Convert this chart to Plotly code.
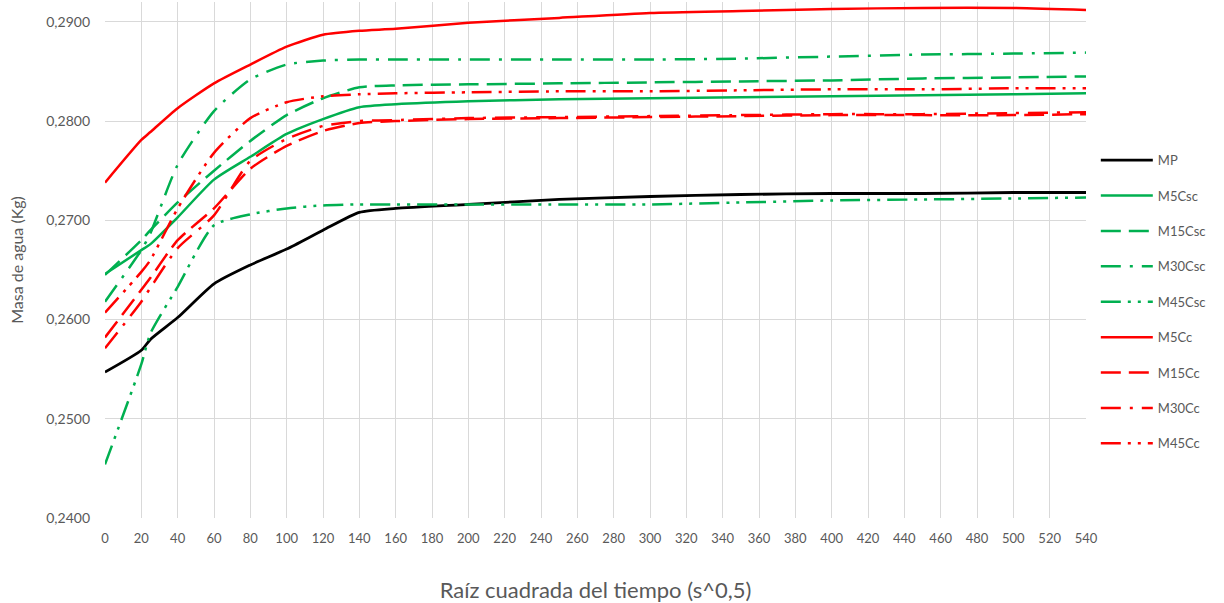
import plotly.graph_objects as go

x_vals = [0, 20, 25, 40, 60, 80, 100, 120, 140, 160, 200, 250, 300, 350, 400, 450, 500, 540]

mp      = [0.2547, 0.2569, 0.2580, 0.2602, 0.2636, 0.2655, 0.2671, 0.2690, 0.2708, 0.2712, 0.2716, 0.2721, 0.2724, 0.2726, 0.2727, 0.2727, 0.2728, 0.2728]
m5csc   = [0.2646, 0.2670, 0.2676, 0.2703, 0.2741, 0.2764, 0.2787, 0.2802, 0.2814, 0.2817, 0.2820, 0.2822, 0.2823, 0.2824, 0.2825, 0.2826, 0.2827, 0.2828]
m15csc  = [0.2645, 0.2680, 0.2690, 0.2718, 0.2750, 0.2780, 0.2806, 0.2823, 0.2834, 0.2836, 0.2837, 0.2838, 0.2839, 0.2840, 0.2841, 0.2843, 0.2844, 0.2845]
m30csc  = [0.2618, 0.2670, 0.2687, 0.2756, 0.2810, 0.2842, 0.2857, 0.2861, 0.2862, 0.2862, 0.2862, 0.2862, 0.2862, 0.2863, 0.2865, 0.2867, 0.2868, 0.2869]
m45csc  = [0.2454, 0.2555, 0.2586, 0.2633, 0.2695, 0.2706, 0.2712, 0.2715, 0.2716, 0.2716, 0.2716, 0.2716, 0.2716, 0.2718, 0.2720, 0.2721, 0.2722, 0.2723]
m5cc    = [0.2738, 0.2781, 0.2789, 0.2813, 0.2838, 0.2857, 0.2875, 0.2887, 0.2891, 0.2893, 0.2899, 0.2904, 0.2909, 0.2911, 0.2913, 0.2914, 0.2914, 0.2912]
m15cc   = [0.2582, 0.2630, 0.2642, 0.2680, 0.2712, 0.2752, 0.2775, 0.2790, 0.2798, 0.2800, 0.2802, 0.2803, 0.2804, 0.2805, 0.2806, 0.2806, 0.2806, 0.2807]
m30cc   = [0.2571, 0.2618, 0.2632, 0.2672, 0.2705, 0.2760, 0.2782, 0.2795, 0.2800, 0.2801, 0.2803, 0.2804, 0.2805, 0.2806, 0.2807, 0.2807, 0.2808, 0.2809]
m45cc   = [0.2607, 0.2648, 0.2660, 0.2712, 0.2768, 0.2803, 0.2819, 0.2825, 0.2827, 0.2828, 0.2829, 0.2830, 0.2830, 0.2831, 0.2832, 0.2832, 0.2833, 0.2833]

names = ["MP", "M5Csc", "M15Csc", "M30Csc", "M45Csc", "M5Cc", "M15Cc", "M30Cc", "M45Cc"]
series = [mp, m5csc, m15csc, m30csc, m45csc, m5cc, m15cc, m30cc, m45cc]

BLACK = "#000000"
GREEN = "#00B050"
RED = "#FF0000"
colors = [BLACK, GREEN, GREEN, GREEN, GREEN, RED, RED, RED, RED]
DASH = "20px,8px"
DASHDOT = "20px,9px,3px,9px"
DASHDOTDOT = "20px,7px,3px,7px,3px,7px"
dashes = ["solid", "solid", DASH, DASHDOT, DASHDOTDOT, "solid", DASH, DASHDOT, DASHDOTDOT]
widths = [2.8, 2.5, 2.5, 2.5, 2.5, 2.5, 2.5, 2.5, 2.5]

FONT = "Lato, 'Open Sans', sans-serif"
GRAY = "#595959"

fig = go.Figure()
for i, (n, s) in enumerate(zip(names, series)):
    fig.add_trace(go.Scatter(
        x=x_vals, y=s, name=n, mode="lines", legendgroup=n,
        line=dict(color=colors[i], width=widths[i], dash=dashes[i], shape="spline", smoothing=0.6),
    ))

fig.update_layout(
    width=1224, height=603,
    paper_bgcolor="white", plot_bgcolor="white",
    margin=dict(l=105, r=138, t=2, b=85),
    separators=",.",
    font=dict(family=FONT, color=GRAY, size=13),
    showlegend=True,
    legend=dict(x=1.01, y=0.7225, xanchor="left", yanchor="top",
                font=dict(size=13, color=GRAY, family=FONT),
                tracegroupgap=15.5, itemwidth=52),
    xaxis=dict(
        range=[0, 540], tickmode="linear", tick0=0, dtick=20,
        showgrid=True, gridcolor="#D9D9D9", gridwidth=1, zeroline=False,
        showline=False, ticks="", ticklabelstandoff=11, tickfont=dict(size=13, color=GRAY),
        title=dict(text="Raíz cuadrada del tiempo (s^0,5)", font=dict(size=22, color=GRAY), standoff=38),
    ),
    yaxis=dict(
        range=[0.24, 0.292], tickmode="linear", tick0=0.24, dtick=0.01, tickformat=".4f",
        showgrid=True, gridcolor="#D9D9D9", gridwidth=1, zeroline=False,
        showline=False, ticks="", ticklabelstandoff=14, tickfont=dict(size=14, color=GRAY),
        title=dict(text="Masa de agua (Kg)", font=dict(size=16, color=GRAY), standoff=18),
    ),
)

fig.write_html("out.html", config={"displayModeBar": False},
               post_script="document.body.style.margin='0px';document.body.style.overflow='hidden';")
